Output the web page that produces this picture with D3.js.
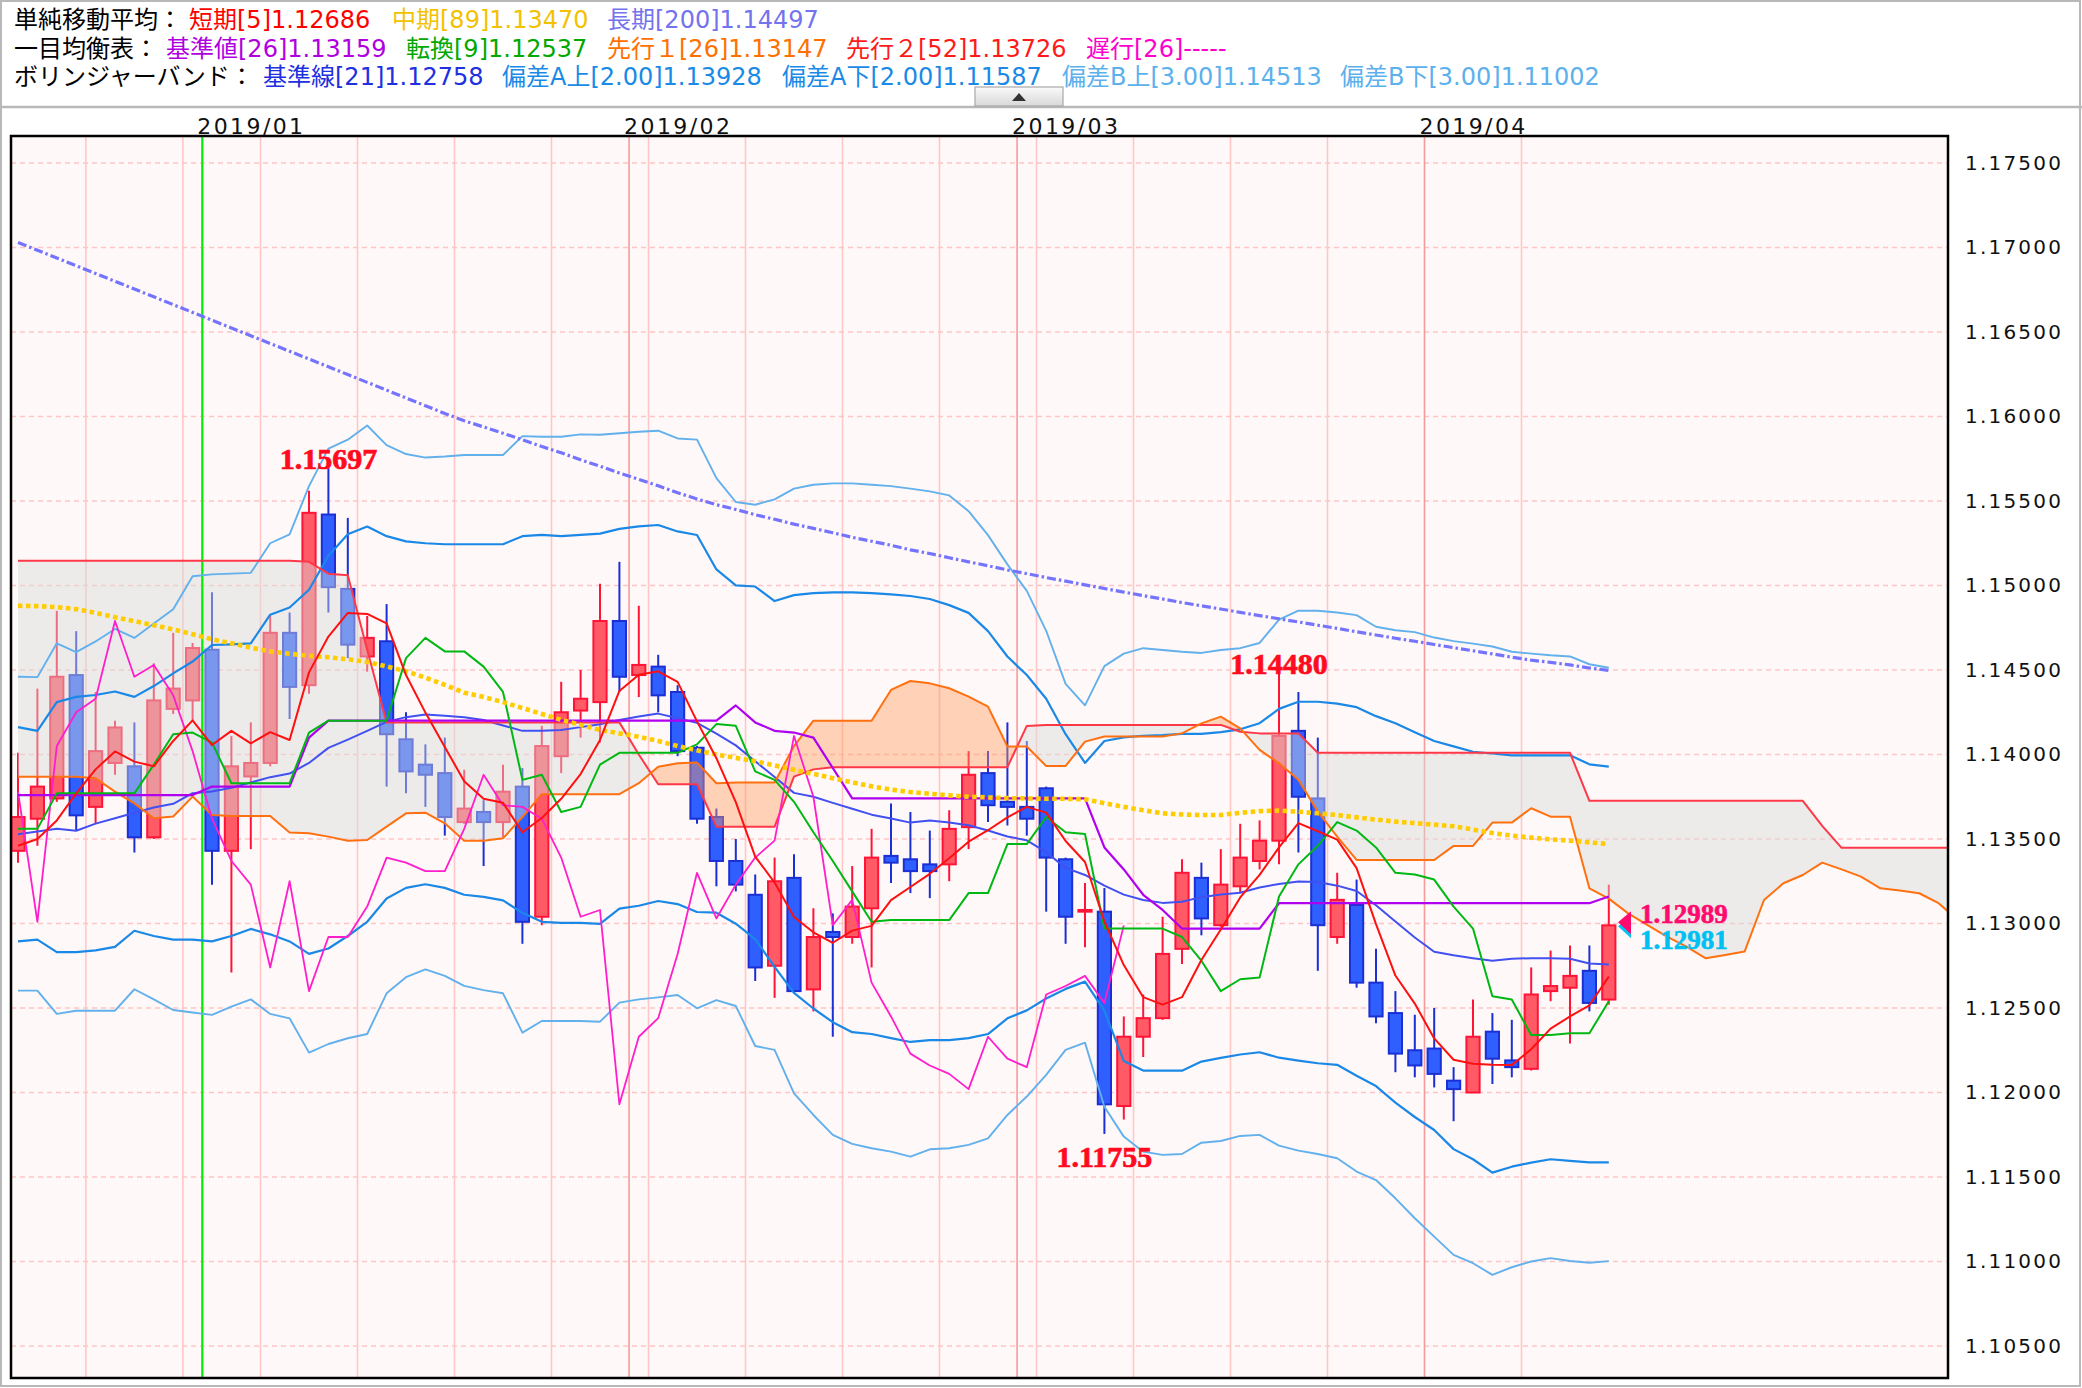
<!DOCTYPE html>
<html><head><meta charset="utf-8">
<script src="https://cdn.jsdelivr.net/npm/d3@7"></script>
<style>body{margin:0;background:#fff;}svg{display:block;}</style>
</head><body>
<svg id="chart" width="2082" height="1388"></svg>
<script>
// ---------------- DATA ----------------
const dates = ["2018-12-18","2018-12-19","2018-12-20","2018-12-21","2018-12-24","2018-12-25","2018-12-26","2018-12-27","2018-12-28","2018-12-31",
"2019-01-02","2019-01-03","2019-01-04","2019-01-07","2019-01-08","2019-01-09","2019-01-10","2019-01-11","2019-01-14","2019-01-15","2019-01-16","2019-01-17","2019-01-18","2019-01-21","2019-01-22","2019-01-23","2019-01-24","2019-01-25","2019-01-28","2019-01-29","2019-01-30","2019-01-31",
"2019-02-01","2019-02-04","2019-02-05","2019-02-06","2019-02-07","2019-02-08","2019-02-11","2019-02-12","2019-02-13","2019-02-14","2019-02-15","2019-02-18","2019-02-19","2019-02-20","2019-02-21","2019-02-22","2019-02-25","2019-02-26","2019-02-27","2019-02-28",
"2019-03-01","2019-03-04","2019-03-05","2019-03-06","2019-03-07","2019-03-08","2019-03-11","2019-03-12","2019-03-13","2019-03-14","2019-03-15","2019-03-18","2019-03-19","2019-03-20","2019-03-21","2019-03-22","2019-03-25","2019-03-26","2019-03-27","2019-03-28","2019-03-29",
"2019-04-01","2019-04-02","2019-04-03","2019-04-04","2019-04-05","2019-04-08","2019-04-09","2019-04-10","2019-04-11","2019-04-12"];
const futureSlots = 19; // empty bar slots to the right of the last candle (cloud projection)

const open = [1.1343,1.1362,1.1374,1.1447,1.1369,1.1395,1.1393,1.1351,1.1427,1.1432,1.1462,1.1343,1.1387,1.1395,1.1472,1.1441,1.1542,1.1498,1.1458,1.1467,1.1409,1.1394,1.1389,1.1360,1.1366,1.1360,1.1381,1.1304,1.1399,1.1426,1.1431,1.1479,1.1447,1.1452,1.1437,1.1404,1.1363,1.1337,1.1317,1.1275,1.1327,1.1261,1.1295,1.1292,1.1309,1.1340,1.1338,1.1335,1.1335,1.1357,1.1389,1.1372,1.1369,1.1380,1.1338,1.1307,1.1307,1.1192,1.1233,1.1244,1.1285,1.1327,1.1299,1.1322,1.1337,1.1349,1.1414,1.1374,1.1292,1.1311,1.1265,1.1247,1.1225,1.1226,1.1207,1.1200,1.1236,1.1219,1.1214,1.1260,1.1262,1.1272,1.1255];
const high = [1.1401,1.1439,1.1485,1.1473,1.1437,1.1420,1.1419,1.1454,1.1472,1.1466,1.1496,1.1411,1.1419,1.1482,1.1484,1.1556,1.15697,1.1540,1.1482,1.1489,1.1425,1.1406,1.1410,1.1391,1.1373,1.1394,1.1392,1.1417,1.1443,1.1450,1.1501,1.1514,1.1488,1.1459,1.1441,1.1405,1.1368,1.1350,1.1329,1.1339,1.1341,1.1309,1.1306,1.1334,1.1356,1.1371,1.1366,1.1355,1.1367,1.1402,1.1402,1.1419,1.1408,1.1381,1.1339,1.1324,1.1321,1.1245,1.1258,1.1304,1.1338,1.1336,1.1344,1.1359,1.1361,1.1448,1.1437,1.1410,1.1330,1.1326,1.1285,1.1260,1.1246,1.1250,1.1215,1.1255,1.1247,1.1243,1.1274,1.1284,1.1287,1.1287,1.1323];
const low = [1.1336,1.1346,1.1372,1.1355,1.1359,1.1388,1.1342,1.1350,1.1424,1.1420,1.1323,1.1271,1.1344,1.1393,1.1421,1.1436,1.1484,1.1457,1.1449,1.1381,1.1377,1.1369,1.1352,1.1359,1.1334,1.1351,1.1288,1.1299,1.1389,1.1410,1.1407,1.1437,1.1434,1.1425,1.1399,1.1359,1.1322,1.1319,1.1266,1.1256,1.1259,1.1248,1.1233,1.1288,1.1274,1.1324,1.1318,1.1315,1.1325,1.1344,1.1360,1.1358,1.1352,1.1307,1.1288,1.1286,1.11755,1.1184,1.1221,1.1243,1.1276,1.1293,1.1298,1.1318,1.1332,1.1335,1.1342,1.1272,1.1288,1.1262,1.1241,1.1212,1.1209,1.1203,1.1183,1.1200,1.1205,1.1209,1.1213,1.1254,1.1229,1.1248,1.1252];
const close = [1.1363,1.1381,1.1446,1.1364,1.1402,1.1416,1.1351,1.1432,1.1439,1.1463,1.1343,1.1393,1.1395,1.1472,1.1440,1.1543,1.1499,1.1465,1.1469,1.1412,1.1390,1.1388,1.1363,1.1368,1.1360,1.1378,1.1301,1.1405,1.1425,1.1433,1.1479,1.1446,1.1453,1.1435,1.1402,1.1362,1.1337,1.1323,1.1274,1.1325,1.1260,1.1292,1.1292,1.1310,1.1339,1.1336,1.1331,1.1331,1.1356,1.1388,1.1370,1.1369,1.1362,1.1339,1.1304,1.1308,1.1193,1.1233,1.1244,1.1282,1.1330,1.1303,1.1323,1.1339,1.1349,1.1411,1.1375,1.1299,1.1314,1.1265,1.1245,1.1223,1.1216,1.1211,1.1202,1.1233,1.1220,1.1215,1.1258,1.1263,1.1269,1.1253,1.12989];

// simple moving averages
const sma5 = [1.1346,1.1350,1.1361,1.1377,1.13912,1.14018,1.13958,1.1393,1.1408,1.14202,1.14056,1.1414,1.14066,1.14132,1.14086,1.14486,1.14698,1.14838,1.14832,1.14776,1.1447,1.14248,1.14044,1.13842,1.13738,1.13714,1.1354,1.13624,1.13738,1.13884,1.14086,1.14376,1.14472,1.14492,1.1443,1.14196,1.13978,1.13718,1.13396,1.13242,1.13038,1.12948,1.12886,1.12958,1.12986,1.13138,1.13216,1.13294,1.13386,1.13484,1.13552,1.13628,1.1369,1.13656,1.13488,1.13364,1.13012,1.12754,1.12564,1.1252,1.12564,1.12784,1.12964,1.13154,1.13288,1.1345,1.13594,1.13546,1.13496,1.13328,1.12996,1.12692,1.12526,1.1232,1.12194,1.1217,1.12164,1.12162,1.12256,1.12378,1.1245,1.12516,1.12686];
const sma89 = [1.14880,1.14878,1.14872,1.14860,1.14838,1.14812,1.14790,1.14765,1.14740,1.14712,1.14682,1.14658,1.14632,1.14610,1.14596,1.14584,1.14575,1.14564,1.14548,1.14521,1.14492,1.14455,1.14412,1.14366,1.14340,1.14310,1.14275,1.14240,1.14205,1.14175,1.14145,1.14125,1.14105,1.14080,1.14050,1.14025,1.14000,1.13980,1.13960,1.13935,1.13910,1.13885,1.13860,1.13835,1.13812,1.13792,1.13778,1.13768,1.13758,1.13750,1.13746,1.13742,1.13740,1.13738,1.13738,1.13735,1.13712,1.13690,1.13670,1.13652,1.13645,1.13642,1.13642,1.13655,1.13665,1.13668,1.13662,1.13652,1.13642,1.13628,1.13615,1.13603,1.13594,1.13585,1.13575,1.13556,1.13535,1.13520,1.13508,1.13498,1.13490,1.13480,1.13470];
const sma200 = [1.17030,1.16984,1.16938,1.16892,1.16846,1.16800,1.16754,1.16708,1.16662,1.16616,1.16570,1.16524,1.16478,1.16432,1.16386,1.16340,1.16294,1.16248,1.16202,1.16156,1.16110,1.16064,1.16018,1.15975,1.15938,1.15901,1.15862,1.15822,1.15785,1.15744,1.15706,1.15665,1.15628,1.15590,1.15549,1.15512,1.15478,1.15450,1.15419,1.15392,1.15363,1.15338,1.15312,1.15285,1.15262,1.15238,1.15211,1.15189,1.15164,1.15140,1.15117,1.15092,1.15070,1.15047,1.15026,1.15004,1.14982,1.14961,1.14940,1.14920,1.14899,1.14880,1.14861,1.14841,1.14822,1.14803,1.14784,1.14765,1.14746,1.14726,1.14707,1.14688,1.14670,1.14651,1.14632,1.14614,1.14595,1.14576,1.14558,1.14545,1.14530,1.14512,1.14497];

// ichimoku
const tenkan = [1.1356,1.1356,1.1377,1.1377,1.1377,1.1377,1.1377,1.1394,1.1412,1.1413,1.1407,1.1383,1.1383,1.1383,1.1383,1.1413,1.1420,1.1420,1.1420,1.1420,1.1457,1.1469,1.1461,1.1461,1.1452,1.1437,1.1385,1.1388,1.1366,1.1369,1.1394,1.1401,1.1401,1.1401,1.1401,1.1406,1.1418,1.1417,1.1390,1.1385,1.1372,1.1354,1.1337,1.1319,1.1301,1.1302,1.1302,1.1302,1.1302,1.1318,1.1318,1.1347,1.1347,1.1363,1.1354,1.1353,1.1297,1.1297,1.1297,1.1297,1.1292,1.1278,1.1260,1.1267,1.1268,1.1316,1.1335,1.1346,1.1360,1.1355,1.1345,1.1330,1.1329,1.1326,1.1310,1.1297,1.1257,1.1255,1.1234,1.1234,1.1235,1.1235,1.1254];
const kijun = [1.1376,1.1376,1.1376,1.1376,1.1376,1.1376,1.1376,1.1376,1.1376,1.1376,1.1381,1.1381,1.1381,1.1381,1.1381,1.1410,1.1420,1.1420,1.1420,1.1420,1.1420,1.1420,1.1420,1.1420,1.1420,1.1420,1.1420,1.1420,1.1420,1.1420,1.1420,1.1420,1.1420,1.1420,1.1420,1.1420,1.1420,1.1429,1.1419,1.1414,1.1413,1.1410,1.1392,1.1374,1.1374,1.1374,1.1374,1.1374,1.1374,1.1374,1.1374,1.1374,1.1374,1.1374,1.1374,1.1374,1.1345,1.1332,1.1317,1.1308,1.1297,1.1297,1.1297,1.1297,1.1297,1.1312,1.1312,1.1312,1.1312,1.1312,1.1312,1.1312,1.1312,1.1312,1.1312,1.1312,1.1312,1.1312,1.1312,1.1312,1.1312,1.1312,1.1316];
const senkouA = [1.13869,1.13869,1.13869,1.13869,1.13859,1.1378,1.13711,1.13623,1.13633,1.13751,1.13642,1.13636,1.13636,1.13636,1.13538,1.13534,1.13514,1.1349,1.13494,1.13573,1.13652,1.13656,1.13593,1.1349,1.1349,1.13504,1.1363,1.13765,1.13765,1.13765,1.13765,1.13765,1.1383,1.13928,1.13948,1.13952,1.1383,1.13834,1.13834,1.13834,1.1405,1.142,1.142,1.142,1.142,1.14382,1.14435,1.14421,1.14392,1.14342,1.14283,1.14047,1.14047,1.13932,1.13932,1.14076,1.14106,1.14106,1.14106,1.14106,1.14125,1.14184,1.14224,1.14155,1.14027,1.13948,1.1385,1.13662,1.13514,1.13376,1.13376,1.13376,1.13376,1.13376,1.13459,1.13459,1.13597,1.13597,1.13682,1.13632,1.13632,1.13208,1.13147,1.1306,1.12991,1.12922,1.12863,1.12794,1.12814,1.12834,1.13139,1.13238,1.13287,1.1336,1.1332,1.13277,1.13208,1.13195,1.13179,1.1312,1.1302];
const senkouB = [1.15147,1.15147,1.15147,1.15147,1.15147,1.15147,1.15147,1.15147,1.15147,1.15147,1.15147,1.15147,1.15147,1.15147,1.15147,1.1514,1.1507,1.1506,1.1462,1.1419,1.1419,1.1419,1.1419,1.1419,1.1419,1.1419,1.1419,1.1419,1.1419,1.1419,1.1419,1.1419,1.1400,1.13824,1.13824,1.13824,1.13573,1.13573,1.13573,1.13573,1.13869,1.13912,1.13925,1.13925,1.13925,1.13925,1.13925,1.13925,1.13925,1.13925,1.13925,1.13925,1.14169,1.14175,1.14175,1.14175,1.14175,1.14175,1.14175,1.14175,1.14175,1.14175,1.14175,1.14135,1.14125,1.14125,1.14125,1.1401,1.1401,1.1401,1.1401,1.1401,1.1401,1.1401,1.1401,1.1401,1.1401,1.1401,1.1401,1.1401,1.1401,1.13726,1.13726,1.13726,1.13726,1.13726,1.13726,1.13726,1.13726,1.13726,1.13726,1.13726,1.13726,1.13578,1.13448,1.13448,1.13448,1.13448,1.13448,1.13448,1.13448];
const chikou = [1.1378,1.1301,1.1405,1.1425,1.1433,1.1479,1.1446,1.1453,1.1435,1.1402,1.1362,1.1337,1.1323,1.1274,1.1325,1.1260,1.1292,1.1292,1.1310,1.1339,1.1336,1.1331,1.1331,1.1356,1.1388,1.1370,1.1369,1.1362,1.1339,1.1304,1.1308,1.1193,1.1233,1.1244,1.1282,1.1330,1.1303,1.1323,1.1339,1.1349,1.1411,1.1375,1.1299,1.1314,1.1265,1.1245,1.1223,1.1216,1.1211,1.1202,1.1233,1.1220,1.1215,1.1258,1.1263,1.1269,1.1253,1.12989];

// bollinger bands
const bbMid = [1.13528,1.13545,1.1356,1.13549,1.13591,1.13623,1.13655,1.13686,1.13708,1.13771,1.13781,1.13803,1.13834,1.13866,1.13887,1.1395,1.14039,1.14088,1.1414,1.14193,1.14221,1.14236,1.14229,1.14221,1.14204,1.14172,1.1414,1.1414,1.14145,1.14162,1.14179,1.14204,1.14225,1.14242,1.14215,1.14187,1.14124,1.14054,1.1396,1.13867,1.13773,1.1375,1.13714,1.13679,1.13644,1.13621,1.13597,1.13609,1.13597,1.13581,1.1355,1.13515,1.13492,1.13422,1.13329,1.13287,1.13224,1.13171,1.13139,1.13122,1.13129,1.13156,1.13171,1.13182,1.13213,1.13234,1.13249,1.13245,1.13224,1.13192,1.13108,1.13012,1.12917,1.12833,1.12812,1.12795,1.1278,1.12791,1.12795,1.12795,1.12791,1.12763,1.12758];
const bbUp2 = [1.14162,1.1414,1.1431,1.14341,1.14352,1.14373,1.14341,1.14405,1.1448,1.1455,1.14648,1.14652,1.14658,1.14827,1.1487,1.14975,1.15176,1.15303,1.15349,1.15292,1.15261,1.1525,1.15244,1.15244,1.15244,1.15244,1.15292,1.15299,1.15292,1.15299,1.15307,1.15335,1.1535,1.15358,1.1532,1.15299,1.15095,1.15001,1.14994,1.14908,1.14943,1.14955,1.14959,1.14959,1.14955,1.14948,1.14938,1.1492,1.14884,1.14838,1.1473,1.1458,1.1447,1.1433,1.1412,1.1395,1.1408,1.14101,1.14111,1.14115,1.14122,1.14122,1.14132,1.14149,1.14185,1.1427,1.14312,1.14312,1.14301,1.1428,1.14227,1.14185,1.14132,1.1408,1.14048,1.14016,1.14006,1.13995,1.13995,1.13995,1.13995,1.13942,1.13928];
const bbLo2 = [1.12894,1.12905,1.12831,1.12831,1.12841,1.12862,1.12957,1.12926,1.12905,1.12905,1.12894,1.12926,1.12968,1.12936,1.12894,1.1282,1.12852,1.12926,1.1301,1.13148,1.13211,1.13232,1.13211,1.1317,1.13158,1.13137,1.13063,1.1301,1.13004,1.13004,1.12998,1.13088,1.13105,1.13133,1.13115,1.13068,1.13064,1.12999,1.12907,1.12743,1.1259,1.12497,1.12416,1.12357,1.12346,1.12322,1.12299,1.1231,1.1231,1.12322,1.12346,1.12439,1.12486,1.12556,1.12613,1.12656,1.12484,1.12186,1.1213,1.12129,1.12129,1.12183,1.12205,1.12225,1.12238,1.12206,1.12189,1.12173,1.12164,1.12099,1.12038,1.1194,1.11855,1.11778,1.11665,1.11605,1.11526,1.11561,1.11585,1.11605,1.11595,1.11587,1.11587];
const bbUp3 = [1.1446,1.14458,1.14658,1.14606,1.14669,1.14743,1.1469,1.14775,1.1486,1.15055,1.15066,1.1507,1.15075,1.1525,1.15303,1.15588,1.1581,1.15863,1.15947,1.15831,1.15778,1.15757,1.15763,1.15772,1.15772,1.15772,1.15884,1.1588,1.1588,1.15894,1.15892,1.15901,1.1591,1.15916,1.1587,1.15863,1.15635,1.15494,1.15478,1.1551,1.15573,1.15596,1.15604,1.15604,1.15596,1.15588,1.15573,1.15557,1.15533,1.1544,1.15298,1.15125,1.14968,1.14732,1.14418,1.14291,1.14523,1.14597,1.14629,1.14618,1.14608,1.14601,1.14618,1.14629,1.1466,1.14798,1.14851,1.14851,1.1484,1.14825,1.14756,1.14735,1.14724,1.14692,1.14671,1.14656,1.14639,1.14608,1.14597,1.14587,1.1458,1.14534,1.14513];
const bbLo3 = [1.12603,1.12603,1.12465,1.12484,1.12484,1.12484,1.12611,1.12551,1.12488,1.12473,1.12459,1.12508,1.12551,1.12465,1.12439,1.12236,1.12287,1.12321,1.12346,1.12587,1.12682,1.12729,1.1269,1.12631,1.12606,1.12587,1.12354,1.12423,1.12423,1.12423,1.12419,1.12532,1.12551,1.12563,1.12577,1.12498,1.12547,1.12512,1.12275,1.12252,1.11995,1.11867,1.11749,1.11696,1.1167,1.1165,1.11621,1.11664,1.1167,1.1169,1.11729,1.11867,1.11976,1.12104,1.12252,1.12295,1.11916,1.11739,1.1165,1.11631,1.11636,1.11703,1.11713,1.11743,1.11749,1.11686,1.11656,1.11636,1.11611,1.11532,1.11482,1.11374,1.11256,1.11147,1.11039,1.1099,1.10921,1.10966,1.11,1.1102,1.11003,1.10993,1.11002];

const yTicks = [1.105,1.110,1.115,1.120,1.125,1.130,1.135,1.140,1.145,1.150,1.155,1.160,1.165,1.170,1.175];
const markIndexHigh = [16, 65];
const markIndexLow = [56];
const lastPrices = [1.12989, 1.12981];

const legendRow1 = ["単純移動平均：","短期[5]1.12686","中期[89]1.13470","長期[200]1.14497"];
const legendRow2 = ["一目均衡表：","基準値[26]1.13159","転換[9]1.12537","先行１[26]1.13147","先行２[52]1.13726","遅行[26]-----"];
const legendRow3 = ["ボリンジャーバンド：","基準線[21]1.12758","偏差A上[2.00]1.13928","偏差A下[2.00]1.11587","偏差B上[3.00]1.14513","偏差B下[3.00]1.11002"];

// ---------------- LAYOUT / STYLE ----------------
const plot = {left: 11, top: 136, right: 1948, bottom: 1378};
const legendX = [[14,189,392,607],[14,166,406,607,846,1086],[14,263,502,782,1062,1340]];
const legendY = [28, 57, 85];
const legendColors = [["#000","#ff0000","#f2c200","#7373ee"],
  ["#000","#b000e0","#00a800","#ff7000","#ff1a1a","#ff00cc"],
  ["#000","#2030e0","#1a8ae6","#1a8ae6","#5cb0ec","#5cb0ec"]];

const svg = d3.select("#chart");
const defs = svg.append("defs");

const nSlots = dates.length + futureSlots;
const slots = d3.range(nSlots);
const x = d3.scaleBand().domain(slots).range([8.3, 8.3 + 19.4 * nSlots]).padding(0);
const bw = x.bandwidth();
const cx = i => x(i) + bw / 2;
const y = d3.scaleLinear().domain([1.105, 1.175]).range([1346, 163]);

// frames
svg.append("rect").attr("x",1).attr("y",1).attr("width",2079).attr("height",1385)
  .attr("fill","#fff").attr("stroke","#b8b8b8").attr("stroke-width",2);
svg.append("line").attr("x1",0).attr("x2",2082).attr("y1",107).attr("y2",107)
  .attr("stroke","#b8b8b8").attr("stroke-width",2.5);

// legend
[legendRow1, legendRow2, legendRow3].forEach((row, r) => {
  row.forEach((t, k) => {
    svg.append("text").attr("x", legendX[r][k]).attr("y", legendY[r])
      .attr("font-family","'DejaVu Sans', 'Noto Sans CJK JP', sans-serif").attr("font-size",24)
      .attr("fill", legendColors[r][k]).text(t);
  });
});
// collapse button
const grad = defs.append("linearGradient").attr("id","btnGrad").attr("x1",0).attr("x2",0).attr("y1",0).attr("y2",1);
grad.append("stop").attr("offset","0%").attr("stop-color","#fafafa");
grad.append("stop").attr("offset","100%").attr("stop-color","#d8d8d8");
svg.append("rect").attr("x",975).attr("y",87).attr("width",88).attr("height",19)
  .attr("fill","url(#btnGrad)").attr("stroke","#a8a8a8").attr("stroke-width",1.2);
svg.append("path").attr("d","M1012,101 L1019,93 L1026,101 Z").attr("fill","#333");

// plot background
svg.append("rect").attr("x",plot.left).attr("y",plot.top)
  .attr("width",plot.right-plot.left).attr("height",plot.bottom-plot.top).attr("fill","#fff8f8");

defs.append("clipPath").attr("id","plotClip").append("rect")
  .attr("x",plot.left).attr("y",plot.top).attr("width",plot.right-plot.left).attr("height",plot.bottom-plot.top);
const g = svg.append("g").attr("clip-path","url(#plotClip)");

// horizontal grid
g.append("g").selectAll("line").data(yTicks).join("line")
  .attr("x1",plot.left).attr("x2",plot.right).attr("y1",d=>y(d)).attr("y2",d=>y(d))
  .attr("stroke","#ffc4c4").attr("stroke-width",1.5).attr("stroke-dasharray","5,4");

// week / month / year separators derived from dates
const parse = d3.timeParse("%Y-%m-%d");
const dts = dates.map(parse);
const weekStarts = [], monthStarts = [], yearStarts = [];
dts.forEach((d, i) => {
  if (i === 0) return;
  const p = dts[i-1];
  if (d.getFullYear() !== p.getFullYear()) yearStarts.push(i);
  else if (d.getMonth() !== p.getMonth()) monthStarts.push(i);
  else if (d.getDay() < p.getDay()) weekStarts.push(i);
});
g.append("g").selectAll("line").data(weekStarts).join("line")
  .attr("x1",d=>x(d)).attr("x2",d=>x(d)).attr("y1",plot.top).attr("y2",plot.bottom)
  .attr("stroke","#ffc6c6").attr("stroke-width",1.6);
g.append("g").selectAll("line").data(monthStarts).join("line")
  .attr("x1",d=>x(d)).attr("x2",d=>x(d)).attr("y1",plot.top).attr("y2",plot.bottom)
  .attr("stroke","#f59a9a").attr("stroke-width",1.6);

// candles
const candleIdx = d3.range(dates.length);
const upFill = "#ff5a66", upStroke = "#ff1438", dnFill = "#2f5fff", dnStroke = "#1a2fd4";
const gC = g.append("g");
gC.selectAll("line").data(candleIdx).join("line")
  .attr("x1",cx).attr("x2",cx).attr("y1",i=>y(high[i])).attr("y2",i=>y(low[i]))
  .attr("stroke",i=>close[i]>=open[i]?upStroke:dnStroke).attr("stroke-width",2);
gC.selectAll("rect").data(candleIdx).join("rect")
  .attr("x",i=>cx(i)-6.6).attr("width",13.2)
  .attr("y",i=>y(Math.max(open[i],close[i])))
  .attr("height",i=>Math.max(1.5, Math.abs(y(open[i])-y(close[i]))))
  .attr("fill",i=>close[i]>=open[i]?upFill:dnFill)
  .attr("stroke",i=>close[i]>=open[i]?upStroke:dnStroke).attr("stroke-width",2);

// cloud (drawn over candles, semi-transparent)
const jIdx = d3.range(senkouA.length);
const areaAbove = arr => d3.area().x(cx).y0(plot.top-30).y1(j=>y(arr[j]))(jIdx);
const areaBelow = arr => d3.area().x(cx).y0(j=>y(arr[j])).y1(plot.bottom+30)(jIdx);
defs.append("clipPath").attr("id","aboveB").append("path").attr("d", areaAbove(senkouB));
defs.append("clipPath").attr("id","aboveA").append("path").attr("d", areaAbove(senkouA));
const gCloud = g.append("g");
gCloud.append("g").attr("clip-path","url(#aboveB)").append("path").attr("d", areaBelow(senkouA))
  .attr("fill","#ff9a5c").attr("fill-opacity",0.42);
gCloud.append("g").attr("clip-path","url(#aboveA)").append("path").attr("d", areaBelow(senkouB))
  .attr("fill","#d7dbd9").attr("fill-opacity",0.45);

// year separator (green)
g.append("g").selectAll("line").data(yearStarts).join("line")
  .attr("x1",d=>x(d)).attr("x2",d=>x(d)).attr("y1",plot.top).attr("y2",plot.bottom)
  .attr("stroke","#00ee00").attr("stroke-width",2.2);

// indicator lines
const lineGen = d3.line().x((d,i)=>cx(i)).y(d=>y(d));
function drawLine(arr, color, width, dash) {
  const p = g.append("path").attr("d", lineGen(arr)).attr("fill","none")
    .attr("stroke", color).attr("stroke-width", width).attr("stroke-linejoin","round");
  if (dash) p.attr("stroke-dasharray", dash);
  return p;
}
drawLine(bbUp3, "#62b0ec", 1.9);
drawLine(bbLo3, "#62b0ec", 1.9);
drawLine(bbUp2, "#1a88e6", 2.2);
drawLine(bbLo2, "#1a88e6", 2.2);
drawLine(bbMid, "#4150f0", 2.0);
drawLine(senkouB, "#ff3848", 2.0);
drawLine(senkouA, "#ff7010", 2.0);
drawLine(chikou, "#ff1ecb", 1.8);
drawLine(kijun, "#b000f0", 2.2);
drawLine(tenkan, "#00b814", 2.0);
drawLine(sma200, "#7474ff", 3.2, "9,3,2.5,3");
drawLine(sma89, "#ffcc00", 4.6, "4.5,3.5");
drawLine(sma5, "#ff1010", 2.0);

// high / low marks
const fmt = d3.format(".5f");
const gM = g.append("g").attr("font-family","'Liberation Serif', serif").attr("font-weight","bold")
  .attr("font-size",30).attr("fill","#ff0a1e").attr("stroke","#ff0a1e").attr("stroke-width",0.7)
  .attr("text-anchor","middle");
gM.selectAll("text.h").data(markIndexHigh).join("text").attr("class","h")
  .attr("x",cx).attr("y",i=>y(high[i])+1).text(i=>fmt(high[i]));
gM.selectAll("text.l").data(markIndexLow).join("text").attr("class","l")
  .attr("x",cx).attr("y",i=>y(low[i])+33).text(i=>fmt(low[i]));

// last price labels
const ly = y(lastPrices[0]);
g.append("path").attr("d",`M1618,${ly+1} L1631,${ly-9} L1631,${ly+13} Z`).attr("fill","#00c4f4");
g.append("path").attr("d",`M1618,${ly-3} L1631,${ly-14} L1631,${ly+9} Z`).attr("fill","#ff0a6e");
const gP = g.append("g").attr("font-family","'Liberation Serif', serif").attr("font-weight","bold").attr("font-size",27);
gP.append("text").attr("x",1640).attr("y",ly-2).attr("fill","#ff0a6e").attr("stroke","#ff0a6e").attr("stroke-width",0.6).text(fmt(lastPrices[0]));
gP.append("text").attr("x",1640).attr("y",ly+24).attr("fill","#00c0f2").attr("stroke","#00c0f2").attr("stroke-width",0.6).text(fmt(lastPrices[1]));

// plot frame
svg.append("rect").attr("x",plot.left).attr("y",plot.top)
  .attr("width",plot.right-plot.left).attr("height",plot.bottom-plot.top)
  .attr("fill","none").attr("stroke","#000").attr("stroke-width",2.5);

// y axis
const yAxis = d3.axisRight(y).tickValues(yTicks).tickFormat(fmt).tickSize(0).tickPadding(0);
const gy = svg.append("g").attr("transform","translate(1965,0)").call(yAxis);
gy.select(".domain").remove();
gy.selectAll("text").attr("font-family","'DejaVu Sans', sans-serif").attr("font-size",20)
  .attr("letter-spacing","2.2px").attr("fill","#111").attr("x",0).attr("text-anchor","start");

// x axis (month labels)
const monthLabelIdx = yearStarts.concat(monthStarts).sort((a,b)=>a-b);
const xAxis = d3.axisTop(x).tickValues(monthLabelIdx).tickFormat(i=>d3.timeFormat("%Y/%m")(dts[i])).tickSize(0).tickPadding(0);
const gx = svg.append("g").attr("transform","translate(0,134)").call(xAxis);
gx.select(".domain").remove();
gx.selectAll("text").attr("font-family","'DejaVu Sans', sans-serif").attr("font-size",22)
  .attr("letter-spacing","2.4px").attr("fill","#111").attr("text-anchor","start")
  .attr("x",-bw/2-5).attr("dy",0).attr("y",0);
</script>
</body></html>
